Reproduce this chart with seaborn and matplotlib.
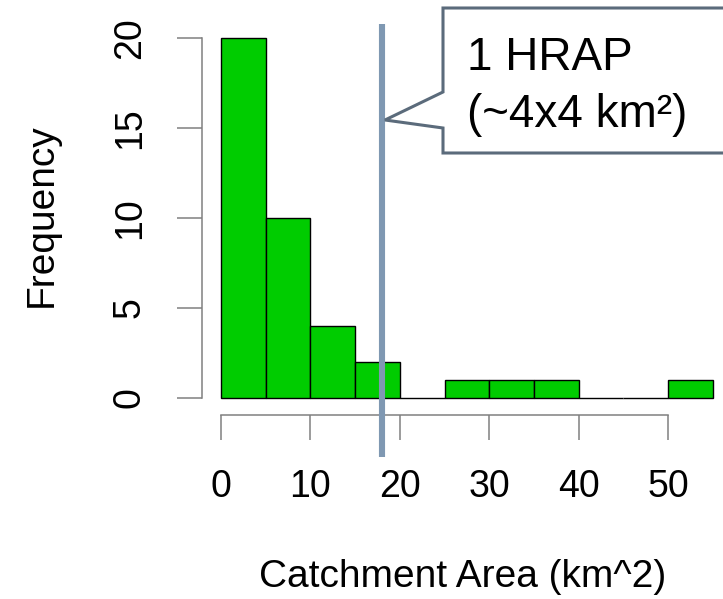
import numpy as np
import matplotlib
matplotlib.use("Agg")
import matplotlib.pyplot as plt
from matplotlib.patches import Polygon
import seaborn as sns

# histogram bins (km^2) and counts
bin_edges = [0, 5, 10, 15, 20, 25, 30, 35, 40, 45, 50, 55]
counts = [20, 10, 4, 2, 0, 1, 1, 1, 0, 0, 1]
x_ticks = [0, 10, 20, 30, 40, 50]
y_ticks = [0, 5, 10, 15, 20]
hrap_line = 18

sns.set_theme(style="white")
plt.rcParams['font.family'] = ['Liberation Sans', 'DejaVu Sans']
plt.rcParams['text.color'] = 'black'

W, H = 723, 599
fig = plt.figure(figsize=(W / 100, H / 100), dpi=100)
ax = fig.add_axes([202 / W, (H - 415) / H, (720 - 202) / W, (415 - 24) / H])

centers = [(a + b) / 2 for a, b in zip(bin_edges[:-1], bin_edges[1:])]
sns.histplot(x=centers, weights=counts, bins=bin_edges, color='#00cc00',
             alpha=1, edgecolor='black', linewidth=1, ax=ax)

ax.set_xlim(-2.125, 55.8)
ax.set_ylim(-0.944, 20.78)

for s in ['top', 'right']:
    ax.spines[s].set_visible(False)
for s in ['left', 'bottom']:
    ax.spines[s].set_color('#808080')
    ax.spines[s].set_linewidth(1.1)
ax.spines['left'].set_bounds(0, 20)
ax.spines['bottom'].set_bounds(0, 50)

ax.set_xticks(x_ticks)
ax.set_yticks(y_ticks)
ax.tick_params(axis='both', length=18, width=1.1, color='#808080',
               labelsize=27, pad=21, direction='out', left=True, bottom=True,
               labelcolor='black')
ax.tick_params(axis='y', labelrotation=90)
for lab in ax.get_yticklabels():
    lab.set_va('center')
ax.set_xlabel('')
ax.set_ylabel('')

fig.text(42 / W, 1 - 215 / H, 'Frequency', rotation=90, fontsize=28,
         ha='center', va='center', color='black')
fig.text(463 / W, 1 - 577 / H, 'Catchment Area (km^2)', fontsize=28,
         ha='center', va='center', color='black')

# HRAP reference line (stops just above the tick labels)
ax.plot([hrap_line, hrap_line], [20.78, -3.28], color='#7f98b2', lw=4.4,
        clip_on=False, zorder=5, solid_capstyle='butt')

# callout box
pts = [(443, 8), (730, 8), (730, 153), (443, 153), (443, 128), (385, 120), (443, 92)]
poly = Polygon([(x / W, 1 - y / H) for x, y in pts], closed=True,
               transform=fig.transFigure, facecolor='white',
               edgecolor='#5b6b7b', linewidth=2.2, zorder=10)
fig.add_artist(poly)
fig.text(467 / W, 1 - 70 / H, '1 HRAP', fontsize=33, ha='left',
         va='baseline', zorder=11, color='black')
fig.text(467 / W, 1 - 127 / H, '(~4x4 km²)', fontsize=33, ha='left',
         va='baseline', zorder=11, color='black')

fig.savefig('out.png', dpi=100)
